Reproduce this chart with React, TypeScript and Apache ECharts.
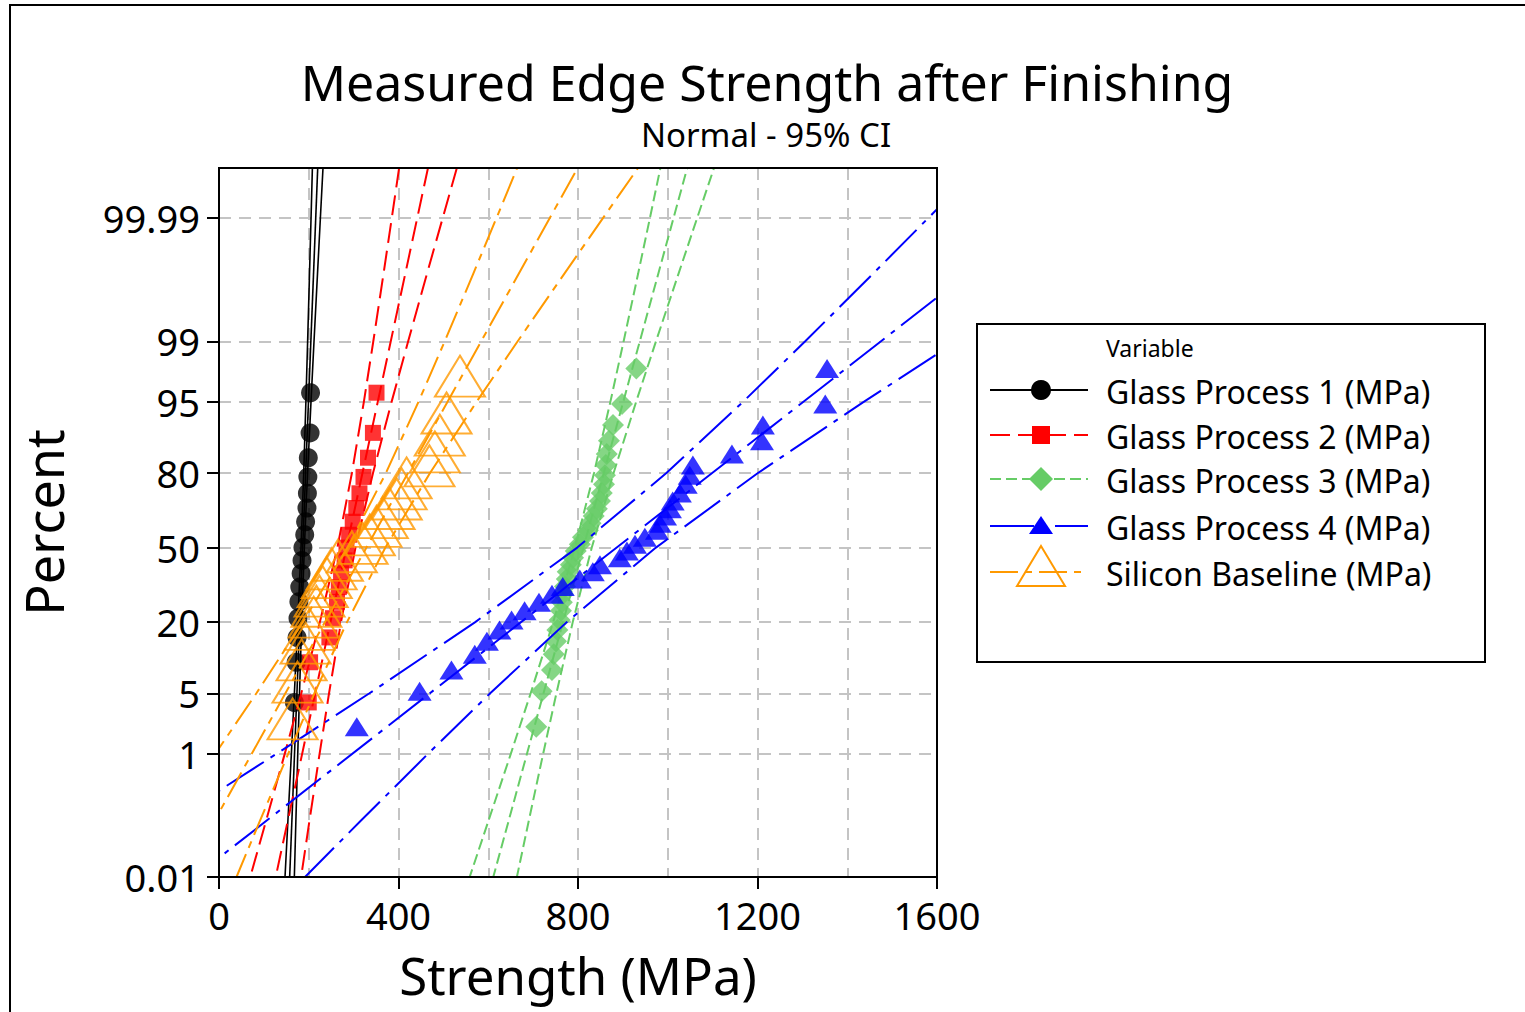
import React, { useEffect, useRef } from "react";
import * as echarts from "echarts";

// ---------- data ----------
// Y tick labels (percent, normal probability scale)
const Y_TICK_PCT = [0.01, 1, 5, 20, 50, 80, 95, 99, 99.99];
const Y_TICK_LABELS = ["0.01", "1", "5", "20", "50", "80", "95", "99", "99.99"];
const X_TICK_LABELS = [0, 400, 800, 1200, 1600];

// percent levels at which the confidence-band curves were read
const BAND_PCT = [0.001, 0.01, 0.1, 1, 5, 20, 50, 80, 95, 99, 99.9, 99.99, 99.9995];
// percent levels of the two ends of each fitted line
const FIT_PCT = [0.001, 99.9995];

// Glass Process 1
const gp1Strength = [168, 172, 174, 176, 178, 180, 183, 185, 187, 191, 193, 196, 197, 198, 199, 203, 204];
const gp1Pct = [4.02, 9.77, 15.52, 21.26, 27.01, 32.76, 38.51, 44.25, 50, 55.75, 61.49, 67.24, 72.99, 78.74, 84.48, 90.23, 95.98];
const gp1Fit = [153.2, 221.0];
const gp1Lo = [141.4, 147.1, 153.5, 161.3, 168.0, 175.6, 182.8, 188.8, 193.6, 197.5, 201.7, 205.1, 208.8];
const gp1Hi = [165.0, 167.9, 171.3, 175.5, 179.4, 184.2, 190.2, 197.4, 205.0, 211.7, 219.5, 225.9, 233.1];

// Glass Process 2
const gp2Strength = [200, 203, 246, 254, 263, 267, 272, 280, 284, 290, 298, 306, 313, 322, 332, 343, 351];
const gp2Pct = [4.02, 9.77, 15.52, 21.26, 27.01, 32.76, 38.51, 44.25, 50, 55.75, 61.49, 67.24, 72.99, 78.74, 84.48, 90.23, 95.98];
const gp2Fit = [103.2, 471.3];
const gp2Lo = [39.2, 69.6, 104.6, 146.6, 183.4, 224.8, 263.8, 296.2, 322.8, 343.8, 366.6, 385.0, 405.2];
const gp2Hi = [167.2, 183.0, 201.4, 224.2, 245.2, 271.8, 304.2, 343.2, 384.6, 421.4, 463.4, 498.4, 537.4];

// Glass Process 3
const gp3Strength = [707, 719, 742, 746, 751, 754, 759, 762, 764, 766, 771, 775, 777, 784, 789, 795, 804, 811, 822, 828, 835, 842, 849, 853, 858, 860, 862, 864, 869, 878, 898, 930];
const gp3Pct = [2.16, 5.25, 8.33, 11.42, 14.51, 17.59, 20.68, 23.77, 26.85, 29.94, 33.02, 36.11, 39.2, 42.28, 45.37, 48.46, 51.54, 54.63, 57.72, 60.8, 63.89, 66.98, 70.06, 73.15, 76.23, 79.32, 82.41, 85.49, 88.58, 91.67, 94.75, 97.84];
const gp3Fit = [581.7, 1050.5];
const gp3Lo = [522.3, 558.6, 600.1, 650.4, 694.5, 744.7, 793.3, 835.7, 872.1, 901.6, 933.9, 960.2, 989.1];
const gp3Hi = [641.1, 663.8, 690.1, 722.4, 751.9, 788.3, 830.7, 879.3, 929.5, 973.6, 1023.9, 1065.4, 1111.9];

// Glass Process 4
const gp4Strength = [307, 447, 518, 570, 597, 625, 652, 681, 713, 742, 766, 804, 833, 849, 893, 909, 927, 949, 976, 982, 994, 1005, 1011, 1027, 1040, 1049, 1056, 1143, 1210, 1212, 1351, 1355];
const gp4Pct = [2.16, 5.25, 8.33, 11.42, 14.51, 17.59, 20.68, 23.77, 26.85, 29.94, 33.02, 36.11, 39.2, 42.28, 45.37, 48.46, 51.54, 54.63, 57.72, 60.8, 63.89, 66.98, 70.06, 73.15, 76.23, 79.32, 82.41, 85.49, 88.58, 91.67, 94.75, 97.84];
const gp4Fit = [-193.0, 2003.5];
const gp4Lo = [-471.5, -301.5, -106.4, 128.8, 335.3, 571.0, 798.3, 997.0, 1167.7, 1305.8, 1457.2, 1580.3, 1716.0];
const gp4Hi = [85.5, 191.7, 314.8, 466.2, 604.3, 775.0, 973.7, 1201.0, 1436.7, 1643.2, 1878.4, 2073.5, 2291.0];

// Silicon Baseline
const siStrength = [164, 175, 184, 193, 202, 211, 217, 224, 231, 240, 251, 265, 296, 320, 336, 351, 365, 380, 396, 407, 418, 469, 481, 492, 507, 537];
const siPct = [2.65, 6.44, 10.23, 14.02, 17.8, 21.59, 25.38, 29.17, 32.95, 36.74, 40.53, 44.32, 48.11, 51.89, 55.68, 59.47, 63.26, 67.05, 70.83, 74.62, 78.41, 82.2, 85.98, 89.77, 93.56, 97.35];
const siFit = [-139.7, 813.6];
const siLo = [-273.8, -198.4, -112.1, -8.0, 83.3, 187.0, 286.4, 372.0, 444.5, 502.8, 566.5, 618.2, 675.2];
const siHi = [-5.6, 39.0, 90.7, 154.4, 212.7, 285.2, 370.8, 470.2, 573.9, 665.2, 769.3, 855.6, 952.0];

const NAMES = [
  "Glass Process 1 (MPa)",
  "Glass Process 2 (MPa)",
  "Glass Process 3 (MPa)",
  "Glass Process 4 (MPa)",
  "Silicon Baseline (MPa)",
];

// ---------- probability-scale transform (inverse normal CDF) ----------
function probit(p: number): number {
  const a = [-3.969683028665376e1, 2.209460984245205e2, -2.759285104469687e2, 1.38357751867269e2, -3.066479806614716e1, 2.506628277459239];
  const b = [-5.447609879822406e1, 1.615858368580409e2, -1.556989798598866e2, 6.680131188771972e1, -1.328068155288572e1];
  const c = [-7.784894002430293e-3, -3.223964580411365e-1, -2.400758277161838, -2.549732539343734, 4.374664141464968, 2.938163982698783];
  const d = [7.784695709041462e-3, 3.224671290700398e-1, 2.445134137142996, 3.754408661907416];
  const plow = 0.02425;
  if (p < plow) {
    const q = Math.sqrt(-2 * Math.log(p));
    return (((((c[0] * q + c[1]) * q + c[2]) * q + c[3]) * q + c[4]) * q + c[5]) / ((((d[0] * q + d[1]) * q + d[2]) * q + d[3]) * q + 1);
  }
  if (p <= 1 - plow) {
    const q = p - 0.5;
    const r = q * q;
    return ((((((a[0] * r + a[1]) * r + a[2]) * r + a[3]) * r + a[4]) * r + a[5]) * q) / (((((b[0] * r + b[1]) * r + b[2]) * r + b[3]) * r + b[4]) * r + 1);
  }
  const q = Math.sqrt(-2 * Math.log(1 - p));
  return -(((((c[0] * q + c[1]) * q + c[2]) * q + c[3]) * q + c[4]) * q + c[5]) / ((((d[0] * q + d[1]) * q + d[2]) * q + d[3]) * q + 1);
}

const pts = (xs: number[], pcts: number[]) => xs.map((x, i) => [x, probit(pcts[i] / 100)]);

const FONT = '"Noto Sans", "Open Sans", sans-serif';
const Y_MAX_Z = 4.285;

type Style = {
  color: string;
  dash: any;
  width: number;
  symbol: string;
  size: any;
  hollow?: boolean;
};

const STYLES: Style[] = [
  { color: "#000000", dash: "solid", width: 1.6, symbol: "circle", size: 19 },
  { color: "#FF0000", dash: [20, 8], width: 2, symbol: "rect", size: 16 },
  { color: "#66CC66", dash: [11, 5], width: 2, symbol: "diamond", size: [22, 22] },
  { color: "#0000FF", dash: [44, 8, 5, 8], width: 2, symbol: "triangle", size: [24, 19] },
  { color: "#FF9900", dash: [28, 7, 7, 7], width: 2, symbol: "triangle", size: [50, 41], hollow: true },
];

function group(idx: number, strength: number[], pct: number[], fit: number[], lo: number[], hi: number[]) {
  const s = STYLES[idx];
  const name = NAMES[idx];
  const lineBase = {
    type: "line",
    name,
    showSymbol: false,
    symbol: "none",
    clip: true,
    silent: true,
    lineStyle: { color: s.color, width: s.width, type: s.dash },
    z: 2 + idx,
  };
  return [
    { ...lineBase, data: pts(fit, FIT_PCT) },
    { ...lineBase, data: pts(lo, BAND_PCT) },
    { ...lineBase, data: pts(hi, BAND_PCT) },
    {
      type: "scatter",
      name,
      symbol: s.symbol,
      symbolSize: s.size,
      clip: true,
      itemStyle: s.hollow
        ? { color: "rgba(0,0,0,0)", borderColor: s.color, borderWidth: 2 }
        : { color: s.color },
      data: pts(strength, pct),
      z: 2 + idx,
    },
  ];
}

function legendGraphics() {
  const lx0 = 990;
  const lx1 = 1088;
  const cx = 1041;
  const rows = [390, 435, 479, 526, 572];
  const els: any[] = [
    {
      type: "rect",
      shape: { x: 977, y: 324, width: 508, height: 338 },
      style: { fill: "#fff", stroke: "#000", lineWidth: 2 },
      z: 10,
    },
    {
      type: "text",
      x: 1106,
      y: 348,
      style: { text: "Variable", font: `23px ${FONT}`, fill: "#000", textAlign: "left", textVerticalAlign: "middle" },
      z: 11,
    },
  ];
  rows.forEach((y, i) => {
    const s = STYLES[i];
    els.push({
      type: "line",
      shape: { x1: lx0, y1: y, x2: lx1, y2: y },
      style: { stroke: s.color, lineWidth: 2, lineDash: s.dash === "solid" ? null : s.dash },
      z: 11,
    });
    let sym: any;
    if (i === 0) sym = { type: "circle", shape: { cx, cy: y, r: 10 }, style: { fill: s.color } };
    else if (i === 1) sym = { type: "rect", shape: { x: cx - 9, y: y - 9, width: 18, height: 18 }, style: { fill: s.color } };
    else if (i === 2)
      sym = { type: "polygon", shape: { points: [[cx, y - 12], [cx + 12, y], [cx, y + 12], [cx - 12, y]] }, style: { fill: s.color } };
    else if (i === 3)
      sym = { type: "polygon", shape: { points: [[cx, y - 10], [cx + 12, y + 8], [cx - 12, y + 8]] }, style: { fill: s.color } };
    else
      sym = {
        type: "polygon",
        shape: { points: [[cx, y - 26], [cx + 24, y + 14], [cx - 24, y + 14]] },
        style: { fill: "none", stroke: s.color, lineWidth: 2 },
      };
    sym.z = 12;
    els.push(sym);
    els.push({
      type: "text",
      x: 1106,
      y: y + 1,
      style: { text: NAMES[i], font: `32px ${FONT}`, fill: "#000", textAlign: "left", textVerticalAlign: "middle" },
      z: 11,
    });
  });
  return els;
}

export default function App() {
  const ref = useRef<HTMLDivElement>(null);
  useEffect(() => {
    if (!ref.current) return;
    const chart = echarts.init(ref.current, null, { renderer: "svg" });
    const yTickZ = Y_TICK_PCT.map((p) => probit(p / 100));
    const gridLine = { color: "#c4c4c4", type: [12, 8], width: 2 };
    const option: any = {
      animation: false,
      backgroundColor: "#fff",
      textStyle: { fontFamily: FONT },
      grid: { left: 219, top: 168, width: 718, height: 709, show: false },
      xAxis: {
        type: "value",
        min: 0,
        max: 1600,
        interval: 400,
        name: "Strength (MPa)",
        nameLocation: "middle",
        nameGap: 72,
        nameTextStyle: { fontSize: 51, color: "#000", fontFamily: FONT },
        axisLine: { show: true, onZero: false, lineStyle: { color: "#000", width: 2 } },
        axisTick: { show: true, length: 12, lineStyle: { color: "#000", width: 2 } },
        axisLabel: {
          fontSize: 38,
          color: "#000",
          margin: 19,
          fontFamily: FONT,
          formatter: (v: number) => (X_TICK_LABELS.indexOf(v) >= 0 ? String(v) : ""),
        },
        splitLine: { show: true, lineStyle: gridLine },
        minorTick: { show: false, splitNumber: 2 },
        minorSplitLine: { show: true, lineStyle: gridLine },
      },
      yAxis: {
        type: "value",
        min: probit(Y_TICK_PCT[0] / 100),
        max: Y_MAX_Z,
        name: "Percent",
        nameLocation: "middle",
        nameGap: 150,
        nameTextStyle: { fontSize: 52, color: "#000", fontFamily: FONT },
        axisLine: { show: true, onZero: false, lineStyle: { color: "#000", width: 2 } },
        axisTick: { show: true, length: 12, lineStyle: { color: "#000", width: 2 }, customValues: yTickZ },
        axisLabel: {
          customValues: yTickZ,
          fontSize: 38,
          color: "#000",
          margin: 19,
          fontFamily: FONT,
          formatter: (v: number) => {
            let best = 0;
            yTickZ.forEach((z, i) => {
              if (Math.abs(z - v) < Math.abs(yTickZ[best] - v)) best = i;
            });
            return Y_TICK_LABELS[best];
          },
        },
        splitLine: { show: true, lineStyle: gridLine },
      },
      graphic: [
        {
          type: "rect",
          shape: { x: 10, y: 5, width: 1540, height: 1040 },
          style: { fill: "none", stroke: "#000", lineWidth: 2 },
          silent: true,
        },
        {
          type: "rect",
          shape: { x: 219, y: 168, width: 718, height: 709 },
          style: { fill: "none", stroke: "#000", lineWidth: 2 },
          silent: true,
          z: 20,
        },
        {
          type: "text",
          x: 767,
          y: 82,
          style: { text: "Measured Edge Strength after Finishing", font: `50px ${FONT}`, fill: "#000", textAlign: "center", textVerticalAlign: "middle" },
        },
        {
          type: "text",
          x: 766,
          y: 134,
          style: { text: "Normal - 95% CI", font: `33px ${FONT}`, fill: "#000", textAlign: "center", textVerticalAlign: "middle" },
        },
        ...legendGraphics(),
      ],
      series: [
        ...group(0, gp1Strength, gp1Pct, gp1Fit, gp1Lo, gp1Hi),
        ...group(1, gp2Strength, gp2Pct, gp2Fit, gp2Lo, gp2Hi),
        ...group(2, gp3Strength, gp3Pct, gp3Fit, gp3Lo, gp3Hi),
        ...group(3, gp4Strength, gp4Pct, gp4Fit, gp4Lo, gp4Hi),
        ...group(4, siStrength, siPct, siFit, siLo, siHi),
      ],
    };
    chart.setOption(option);
    return () => chart.dispose();
  }, []);
  return <div ref={ref} style={{ position: "absolute", left: 0, top: 0, width: 1525, height: 1012 }} />;
}
